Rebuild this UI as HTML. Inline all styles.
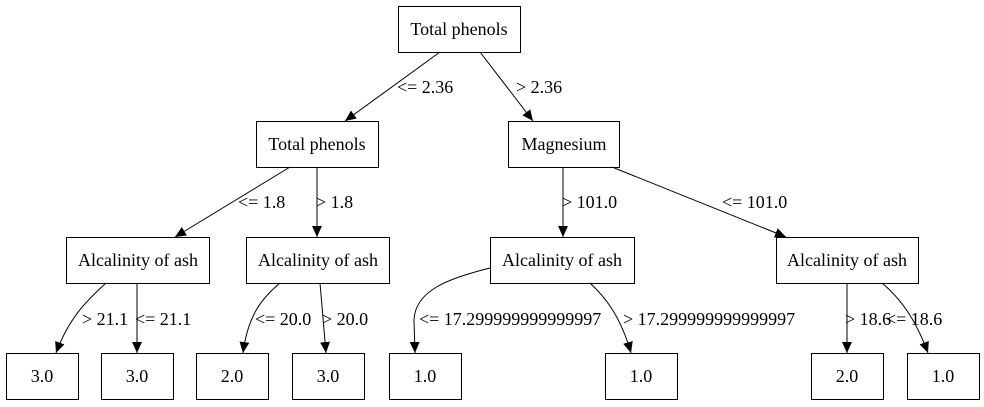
<!DOCTYPE html>
<html><head><meta charset="utf-8"><style>
html,body{margin:0;padding:0;background:#fff;}
svg{display:block;}
text{font-family:"Liberation Serif",serif;font-size:18px;fill:#000;}
.n{fill:#fff;stroke:#000;stroke-width:1;}
.e{fill:none;stroke:#000;stroke-width:1;}
</style></head><body>
<svg width="984" height="407" viewBox="0 0 984 407" xmlns="http://www.w3.org/2000/svg">
<defs><marker id="a" viewBox="0 0 10 10" refX="10" refY="5" markerWidth="11" markerHeight="11" markerUnits="userSpaceOnUse" orient="auto"><path d="M0,0.5 L10,5 L0,9.5 z" fill="#000"/></marker></defs>

<rect class="n" x="398.5" y="6.5" width="122" height="46"/><text x="459" y="35" text-anchor="middle">Total phenols</text>
<rect class="n" x="256.5" y="121.5" width="122" height="46"/><text x="317" y="150" text-anchor="middle">Total phenols</text>
<rect class="n" x="508.5" y="121.5" width="111" height="46"/><text x="564" y="150" text-anchor="middle">Magnesium</text>
<rect class="n" x="66.5" y="237.5" width="143" height="46"/><text x="138" y="266" text-anchor="middle">Alcalinity of ash</text>
<rect class="n" x="246.5" y="237.5" width="143" height="46"/><text x="318" y="266" text-anchor="middle">Alcalinity of ash</text>
<rect class="n" x="490.5" y="237.5" width="144" height="46"/><text x="562" y="266" text-anchor="middle">Alcalinity of ash</text>
<rect class="n" x="776.5" y="237.5" width="142" height="46"/><text x="847" y="266" text-anchor="middle">Alcalinity of ash</text>

<rect class="n" x="6.5" y="353.5" width="72" height="46"/><text x="42" y="382" text-anchor="middle">3.0</text>
<rect class="n" x="101.5" y="353.5" width="72" height="46"/><text x="137" y="382" text-anchor="middle">3.0</text>
<rect class="n" x="196.5" y="353.5" width="72" height="46"/><text x="232" y="382" text-anchor="middle">2.0</text>
<rect class="n" x="292.5" y="353.5" width="72" height="46"/><text x="328" y="382" text-anchor="middle">3.0</text>
<rect class="n" x="389.5" y="353.5" width="72" height="46"/><text x="425" y="382" text-anchor="middle">1.0</text>
<rect class="n" x="605.5" y="353.5" width="72" height="46"/><text x="641" y="382" text-anchor="middle">1.0</text>
<rect class="n" x="811.5" y="353.5" width="72" height="46"/><text x="847" y="382" text-anchor="middle">2.0</text>
<rect class="n" x="907.5" y="353.5" width="72" height="46"/><text x="943" y="382" text-anchor="middle">1.0</text>

<path class="e" d="M440,52 L345,121" marker-end="url(#a)"/><text x="397" y="93">&lt;= 2.36</text>
<path class="e" d="M480,52 L533,121" marker-end="url(#a)"/><text x="516" y="93">&gt; 2.36</text>
<path class="e" d="M290,167 L175,237" marker-end="url(#a)"/><text x="238" y="208">&lt;= 1.8</text>
<path class="e" d="M317,167 L317,237" marker-end="url(#a)"/><text x="316" y="208">&gt; 1.8</text>
<path class="e" d="M563,167 L563,237" marker-end="url(#a)"/><text x="562" y="208">&gt; 101.0</text>
<path class="e" d="M612,167 L786,237" marker-end="url(#a)"/><text x="722" y="208">&lt;= 101.0</text>

<path class="e" d="M106,283 C90,298 70,315 56,353" marker-end="url(#a)"/><text x="82" y="325">&gt; 21.1</text>
<path class="e" d="M137,283 L137,353" marker-end="url(#a)"/><text x="135" y="325">&lt;= 21.1</text>
<path class="e" d="M280,283 C262,298 248,315 243,353" marker-end="url(#a)"/><text x="255" y="325">&lt;= 20.0</text>
<path class="e" d="M320,283 L326,353" marker-end="url(#a)"/><text x="322" y="325">&gt; 20.0</text>
<path class="e" d="M490,268 C450,278 415,290 414,320 L415,353" marker-end="url(#a)"/><text x="419" y="325">&lt;= 17.299999999999997</text>
<path class="e" d="M590,283 C605,297 620,315 631,353" marker-end="url(#a)"/><text x="623" y="325">&gt; 17.299999999999997</text>
<path class="e" d="M847,283 L847,353" marker-end="url(#a)"/><text x="845" y="325">&gt; 18.6</text>
<path class="e" d="M882,283 C900,298 915,318 928,353" marker-end="url(#a)"/><text x="886" y="325">&lt;= 18.6</text>
</svg>
</body></html>
